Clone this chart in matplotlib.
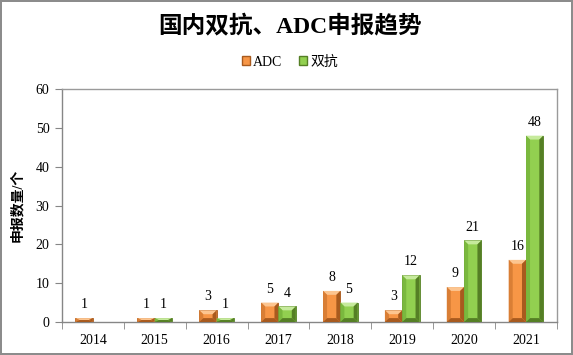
import matplotlib
matplotlib.use("Agg")
import matplotlib.pyplot as plt
from matplotlib.patches import Patch
import numpy as np

plt.rcParams['font.family'] = ['Liberation Serif', 'Noto Sans CJK SC', 'DejaVu Sans']

years = ['2014', '2015', '2016', '2017', '2018', '2019', '2020', '2021']
adc = [1, 1, 3, 5, 8, 3, 9, 16]
shuangkang = [0, 1, 1, 4, 5, 12, 21, 48]

title = '国内双抗、ADC申报趋势'
ylabel = '申报数量/个'
series_names = ['ADC', '双抗']

# base, light, side, dark
orange = ('#F79646', '#FCC590', '#D97E35', '#A85A1E')
green = ('#92D050', '#C6EA9C', '#7AB83E', '#557F25')

fig = plt.figure(figsize=(5.73, 3.55), dpi=100)
fig.patch.set_edgecolor('#8c8c8c')
fig.patch.set_linewidth(1.5)
ax = fig.add_axes([0.108, 0.093, 0.864, 0.656])

x = np.arange(len(years))
w = 0.28
ymax = 60


def bevel_bar(xc, h, cols):
    if h <= 0:
        return
    base, light, side, dark = cols
    x0, x1 = xc - w / 2, xc + w / 2
    bx = 0.065
    by = min(1.0, h / 2)
    ax.bar(xc, h, w, color=base, edgecolor=dark, linewidth=0.6, zorder=2)
    # top bevel
    ax.fill([x0, x1, x1 - bx, x0 + bx], [h, h, h - by, h - by], color=light, lw=0, zorder=3)
    # left
    ax.fill([x0, x0 + bx, x0 + bx, x0], [h, h - by, by, 0], color=side, lw=0, zorder=3)
    # right
    ax.fill([x1, x1 - bx, x1 - bx, x1], [h, h - by, by, 0], color=dark, lw=0, zorder=3)
    # bottom
    ax.fill([x0, x1, x1 - bx, x0 + bx], [0, 0, by, by], color=dark, lw=0, zorder=3)


for i in range(len(years)):
    bevel_bar(x[i] - w / 2, adc[i], orange)
    bevel_bar(x[i] + w / 2, shuangkang[i], green)
    if adc[i] > 0:
        ax.annotate(str(adc[i]), (x[i] - w / 2, adc[i]), xytext=(0, 5),
                    textcoords='offset points', ha='center', va='bottom', fontsize=10)
    if shuangkang[i] > 0:
        ax.annotate(str(shuangkang[i]), (x[i] + w / 2, shuangkang[i]), xytext=(0, 5),
                    textcoords='offset points', ha='center', va='bottom', fontsize=10)

ax.set_xlim(-0.5, len(years) - 0.5)
ax.set_ylim(0, ymax)
ax.set_yticks(range(0, 61, 10))
ax.set_xticks(x)
ax.set_xticklabels(years)
ax.set_xticks(np.arange(-0.5, len(years), 1), minor=True)
ax.tick_params(axis='x', which='major', length=0, pad=9, labelsize=10)
ax.tick_params(axis='x', which='minor', length=5, color='#868686', direction='out')
ax.tick_params(axis='y', length=5, color='#868686', direction='out', labelsize=10, pad=4)
for s in ax.spines.values():
    s.set_color('#9a9a9a')
    s.set_linewidth(1)
ax.spines['left'].set_color('#868686')
ax.spines['bottom'].set_color('#868686')

ax.set_ylabel(ylabel, fontsize=10, fontweight='bold', labelpad=8)

fig.text(0.506, 0.928, title, ha='center', va='center', fontsize=17, fontweight='bold')

handles = [Patch(facecolor=orange[0], edgecolor=orange[3]),
           Patch(facecolor=green[0], edgecolor=green[3])]
fig.legend(handles, series_names, loc='center', bbox_to_anchor=(0.506, 0.825), ncol=2,
           frameon=False, fontsize=10, handlelength=0.6, handleheight=0.6,
           handletextpad=0.2, columnspacing=1.2)

fig.savefig('out.png', dpi=100)
